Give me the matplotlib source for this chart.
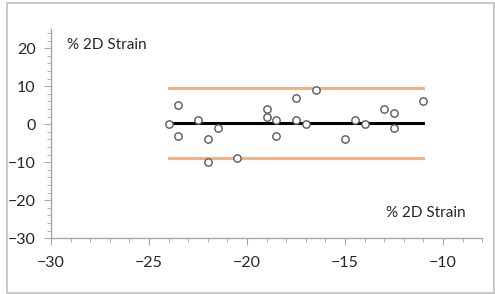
import numpy as np
import matplotlib
matplotlib.use("Agg")
import matplotlib.pyplot as plt
from matplotlib.ticker import MultipleLocator
from matplotlib.patches import Rectangle

# mean of two measurements vs difference (Bland-Altman style)
x_vals = [-24.0, -23.5, -23.5, -22.5, -22.0, -21.5, -22.0, -20.5,
          -19.0, -19.0, -18.5, -18.5, -17.5, -17.5, -17.0, -16.5,
          -15.0, -14.5, -14.0, -13.0, -12.5, -12.5, -11.0]
y_vals = [0, 5, -3, 1, -4, -1, -10, -9,
          4, 2, 1, -3, 7, 1, 0, 9,
          -4, 1, 0, 4, 3, -1, 6]
line_x = [-24.0, -11.0]
mean_diff = 0.35
upper_loa = 9.4
lower_loa = -8.8
label = "% 2D Strain"

plt.rcParams['font.family'] = ['Lato', 'DejaVu Sans']

fig = plt.figure(figsize=(4.95, 2.94), dpi=100)
ax = fig.add_axes([0.103, 0.19, 0.871, 0.711])

ax.plot(line_x, [upper_loa, upper_loa], color='#F4B183', lw=2.2, zorder=2)
ax.plot(line_x, [lower_loa, lower_loa], color='#F4B183', lw=2.2, zorder=2)
ax.plot(line_x, [mean_diff, mean_diff], color='black', lw=2.2, zorder=2)
ax.scatter(x_vals, y_vals, s=28, facecolors='white', edgecolors='#595959',
           linewidths=1.0, zorder=3)

ax.set_xlim(-30, -8)
ax.set_ylim(-30, 25)
ax.set_xticks([-30, -25, -20, -15, -10])
ax.set_yticks([-30, -20, -10, 0, 10, 20])
ax.xaxis.set_minor_locator(MultipleLocator(1))
ax.yaxis.set_minor_locator(MultipleLocator(2))

for s in ['top', 'right']:
    ax.spines[s].set_visible(False)
for s in ['left', 'bottom']:
    ax.spines[s].set_color('#A6A6A6')
    ax.spines[s].set_linewidth(1.0)
ax.tick_params(which='major', length=5, color='#A6A6A6', labelsize=11.5,
               labelcolor='#262626', pad=6)
ax.tick_params(which='minor', length=3, color='#A6A6A6')
ax.tick_params(axis='x', pad=8)

ax.text(-29.2, 20.8, label, fontsize=11, va='center', ha='left', color='#262626')
ax.text(-12.9, -23.4, label, fontsize=11, va='center', ha='left', color='#262626')

fig.patches.append(Rectangle((0.014, 0.005), 0.984, 0.985, transform=fig.transFigure,
                             fill=False, edgecolor='#BFBFBF', lw=1.2))

fig.savefig('out.png', dpi=100)
